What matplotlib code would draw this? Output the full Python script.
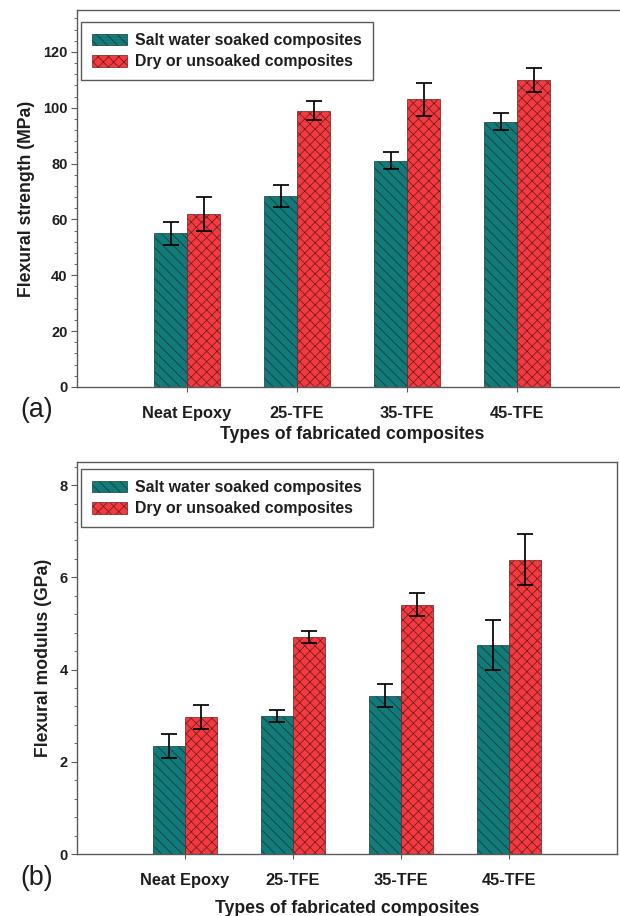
import matplotlib.pyplot as plt
from matplotlib.ticker import MultipleLocator

# Datos
categorias = ['Neat Epoxy', '25-TFE', '35-TFE', '45-TFE']

resistencia_remojo = [55, 68.5, 81, 95]
resistencia_remojo_err = [4, 4, 3, 3]
resistencia_seco = [62, 99, 103, 110]
resistencia_seco_err = [6, 3.5, 6, 4.2]

modulo_remojo = [2.35, 3.0, 3.43, 4.53]
modulo_remojo_err = [0.26, 0.13, 0.25, 0.54]
modulo_seco = [2.98, 4.7, 5.4, 6.38]
modulo_seco_err = [0.26, 0.13, 0.25, 0.55]

etiquetas = ['Salt water soaked composites', 'Dry or unsoaked composites']

plt.rcParams['font.family'] = ['Liberation Sans', 'DejaVu Sans']
plt.rcParams['hatch.linewidth'] = 0.9

color_teal = '#127b79'
color_rojo = '#f43a40'
gris = '#5a5a5a'
texto = '#1e1e1e'

fig = plt.figure(figsize=(10, 916 / 62), dpi=62)


def panel(ax, remojo, remojo_err, seco, seco_err, ylabel, ymax, paso, menor, leg_y, xlabelpad):
    x = list(range(len(categorias)))
    ancho = 0.3
    x1 = [i - ancho / 2 for i in x]
    x2 = [i + ancho / 2 for i in x]

    ax.bar(x1, remojo, ancho, color=color_teal, edgecolor='#143a3a', linewidth=0.8,
           hatch='\\\\', label=etiquetas[0])
    ax.bar(x2, seco, ancho, color=color_rojo, edgecolor='#6e1e1e', linewidth=0.8,
           hatch='xx', label=etiquetas[1])

    # Barras de error
    ax.errorbar(x1, remojo, yerr=remojo_err, fmt='none', ecolor='black',
                elinewidth=2.0, capsize=9, capthick=2.0)
    ax.errorbar(x2, seco, yerr=seco_err, fmt='none', ecolor='black',
                elinewidth=2.0, capsize=9, capthick=2.0)

    ax.set_xlim(-1, 4)
    ax.set_ylim(0, ymax)
    ax.set_xticks(x)
    ax.set_xticklabels(categorias)
    ax.yaxis.set_major_locator(MultipleLocator(paso))
    ax.yaxis.set_minor_locator(MultipleLocator(menor))

    ax.tick_params(axis='x', direction='out', length=6, width=1.3, colors=gris,
                   labelcolor=texto, labelsize=19, pad=16)
    ax.tick_params(axis='y', which='major', direction='out', length=7, width=1.3,
                   colors=gris, labelcolor=texto, labelsize=17, pad=4)
    ax.tick_params(axis='y', which='minor', direction='out', length=4, width=1.0,
                   colors=gris)
    for t in ax.get_xticklabels() + ax.get_yticklabels():
        t.set_fontweight('bold')

    for s in ax.spines.values():
        s.set_color(gris)
        s.set_linewidth(1.6)

    ax.set_ylabel(ylabel, fontsize=20.5, fontweight='bold', color=texto, labelpad=9)
    ax.set_xlabel('Types of fabricated composites', fontsize=20.5, fontweight='bold',
                  color=texto, labelpad=xlabelpad)

    leg = ax.legend(loc='upper left', bbox_to_anchor=(0.007, leg_y), borderaxespad=0,
                    fancybox=False, edgecolor=gris, fontsize=18.5, handlelength=2.2,
                    handleheight=0.75, handletextpad=0.5, labelspacing=0.38,
                    borderpad=0.7, framealpha=1)
    leg.get_frame().set_linewidth(1.6)
    for t in leg.get_texts():
        t.set_fontweight('bold')
        t.set_color(texto)


# (a) Resistencia a la flexion
ax1 = fig.add_axes([77 / 620, 1 - 387 / 916, 550 / 620, 377 / 916])
panel(ax1, resistencia_remojo, resistencia_remojo_err, resistencia_seco, resistencia_seco_err,
      'Flexural strength (MPa)', 135, 20, 4, 0.968, 6)

# (b) Modulo de flexion
ax2 = fig.add_axes([77 / 620, 1 - 854 / 916, 540 / 620, 392 / 916])
panel(ax2, modulo_remojo, modulo_remojo_err, modulo_seco, modulo_seco_err,
      'Flexural modulus (GPa)', 8.5, 2, 0.4, 0.982, 14)

fig.text(37 / 620, 1 - 410 / 916, '(a)', fontsize=31, color=texto, ha='center', va='center')
fig.text(37 / 620, 1 - 878 / 916, '(b)', fontsize=31, color=texto, ha='center', va='center')

fig.savefig('out.png', dpi=62)
